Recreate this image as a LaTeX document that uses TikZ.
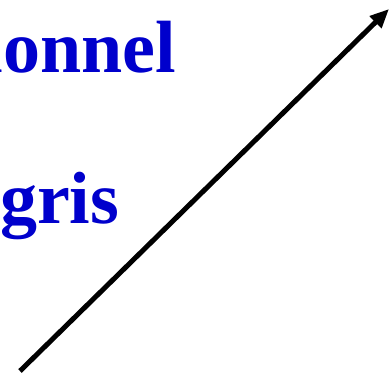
\documentclass[tikz,border=0pt]{standalone}
\usepackage{fontspec}
\setmainfont{Liberation Serif}
\usetikzlibrary{arrows.meta}
\definecolor{LabelBlue}{HTML}{0000CC}
\definecolor{ArrowInk}{HTML}{000000}
\tikzset{
  every node/.style={inner sep=0pt, outer sep=0pt},
  word/.style={font=\fontsize{74}{80}\selectfont\bfseries, text=LabelBlue},
  pointer/.style={-{Triangle[length=19pt,width=16pt]}, draw=ArrowInk, line width=5pt},
}
\begin{document}
\begin{tikzpicture}[x=1pt,y=1pt]
  \useasboundingbox (0,0) rectangle (390,376);
  \clip (0,0) rectangle (390,376);
  % labels, cut at the left border
  \node[word, anchor=base east] (upper) at (176,304) {tionnel};
  \node[word, anchor=base west] (lower) at (0,153) {gris};
  % rising arrow
  \coordinate (tail) at (20,5);
  \coordinate (head) at (389,367);
  \draw[pointer] (tail) -- (head);
\end{tikzpicture}
\end{document}
